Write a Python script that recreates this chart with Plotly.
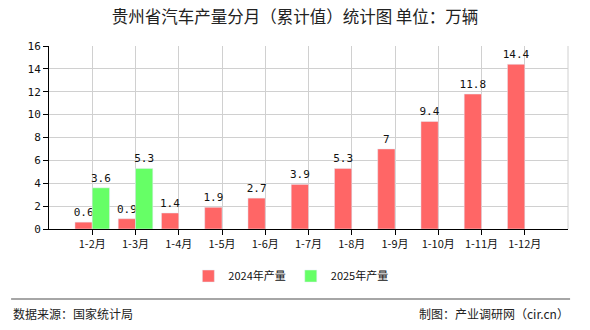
import plotly.graph_objects as go

# 贵州省汽车产量分月（累计值），单位：万辆
months = ["1-2月", "1-3月", "1-4月", "1-5月", "1-6月", "1-7月",
          "1-8月", "1-9月", "1-10月", "1-11月", "1-12月"]
prod_2024 = [0.6, 0.9, 1.4, 1.9, 2.7, 3.9, 5.3, 7, 9.4, 11.8, 14.4]
prod_2025 = [3.6, 5.3, None, None, None, None, None, None, None, None, None]
y_ticks = [0, 2, 4, 6, 8, 10, 12, 14, 16]

RED = "#FF6666"
GREEN = "#66FF66"
CJK = "Noto Sans CJK SC"
MONO = "DejaVu Sans Mono"

x_pos = list(range(len(months)))


def labels(vals):
    return ["" if v is None else f"{v:g}" for v in vals]


fig = go.Figure()
for name, vals, color in (("2024年产量", prod_2024, RED),
                          ("2025年产量", prod_2025, GREEN)):
    fig.add_trace(go.Bar(
        x=x_pos, y=vals, name=name, marker_color=color,
        text=labels(vals), textposition="outside", constraintext="none",
        textfont=dict(family=MONO, size=11, color="#111"), cliponaxis=False,
    ))

fig.update_layout(
    width=590, height=330,
    margin=dict(l=49, r=22, t=46, b=101, autoexpand=False),
    paper_bgcolor="white", plot_bgcolor="white",
    barmode="group", bargap=0.2, bargroupgap=0,
    title=dict(text="贵州省汽车产量分月（累计值）统计图 单位：万辆",
               x=0.5, xref="container", xanchor="center", y=0.948, yanchor="middle",
               font=dict(family=CJK, size=16.5, color="#222")),
    showlegend=True,
    legend=dict(orientation="h", x=0.466, xanchor="center",
                y=-0.257, yanchor="middle",
                font=dict(family=CJK, size=11, color="#111"),
                itemwidth=30, traceorder="normal"),
)

fig.update_xaxes(
    range=[-1, len(months)], tickmode="array", tickvals=x_pos, ticktext=months,
    tickangle=0,
    showgrid=True, gridcolor="#d0d0d0", gridwidth=1,
    showline=True, linecolor="#000", linewidth=1,
    ticks="outside", ticklen=5, tickcolor="#000",
    tickfont=dict(family=CJK, size=11, color="#111"),
    zeroline=False, fixedrange=True,
)
fig.update_yaxes(
    range=[0, 16], tickmode="array", tickvals=y_ticks,
    showgrid=True, gridcolor="#d0d0d0", gridwidth=1,
    showline=True, linecolor="#000", linewidth=1,
    ticks="outside", ticklen=5, tickcolor="#000",
    tickfont=dict(family=MONO, size=11, color="#111"),
    zeroline=False, fixedrange=True,
)

# right border of the plot area
fig.add_shape(type="line", xref="paper", yref="paper", x0=1, x1=1, y0=0, y1=1,
              line=dict(color="#d0d0d0", width=1))

# footer separator and source notes
fig.add_shape(type="line", xref="paper", yref="paper", x0=-0.073, x1=1.004,
              y0=-0.383, y1=-0.383, line=dict(color="#888", width=1.5))
fig.add_annotation(text="数据来源：国家统计局", xref="paper", yref="paper",
                   x=-0.073, xanchor="left", y=-0.46, yanchor="middle",
                   showarrow=False, font=dict(family=CJK, size=12, color="#222"))
fig.add_annotation(text="制图：产业调研网（cir.cn）", xref="paper", yref="paper",
                   x=1.006, xanchor="right", y=-0.46, yanchor="middle",
                   showarrow=False, font=dict(family=CJK, size=12, color="#222"))

fig.write_html("out.html")
